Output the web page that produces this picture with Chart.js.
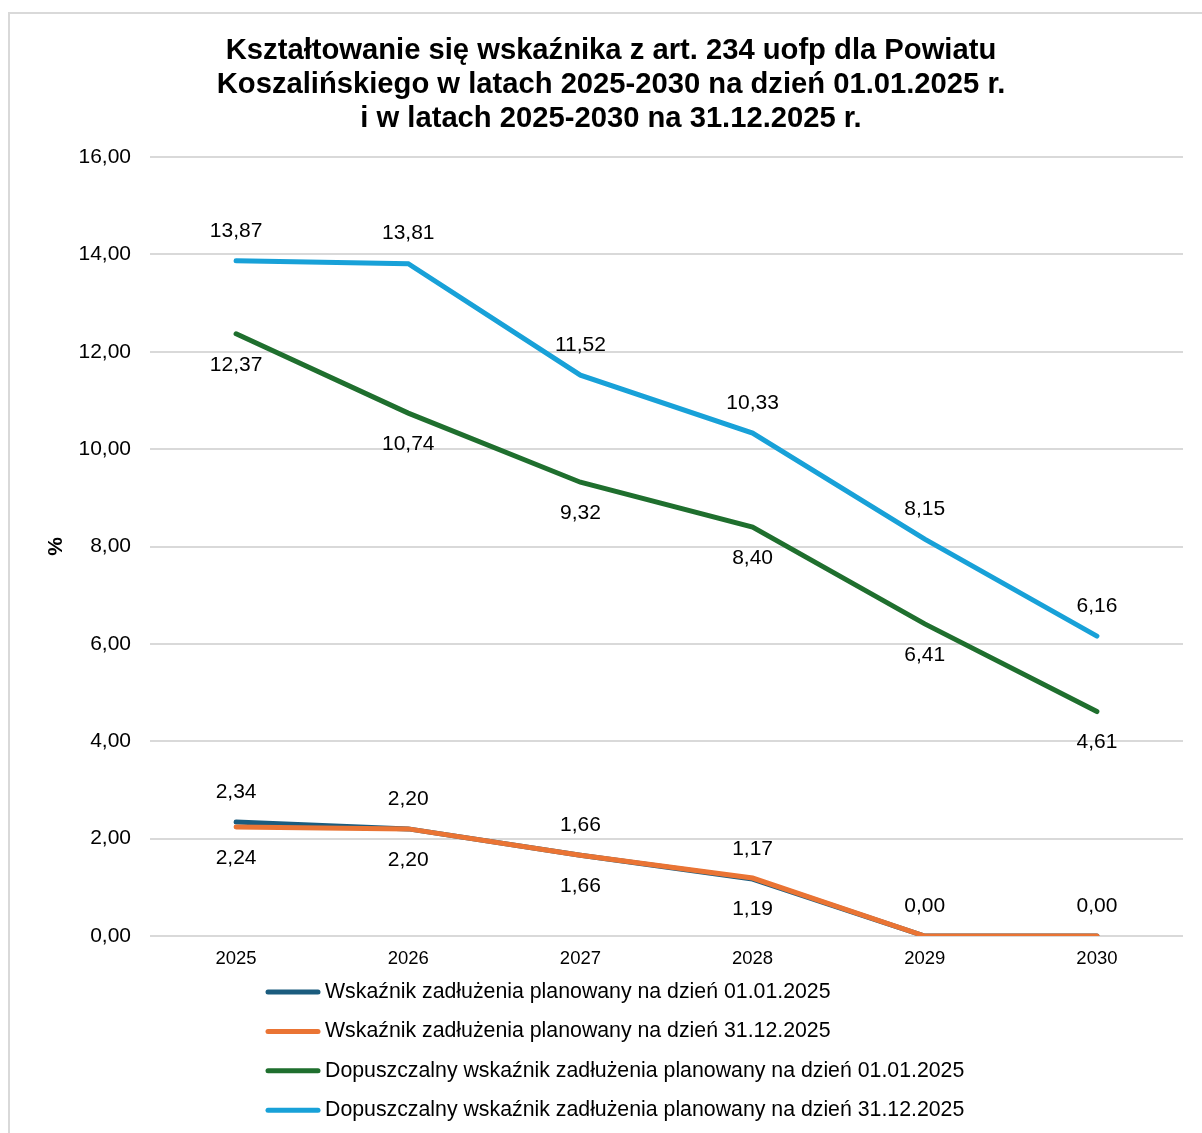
<!DOCTYPE html>
<html lang="pl">
<head>
<meta charset="utf-8">
<script src="https://cdn.jsdelivr.net/npm/chart.js@4.4.1/dist/chart.umd.min.js"></script>
<style>
  html, body { margin: 0; padding: 0; background: #ffffff; }
  #wrap { position: relative; width: 1202px; height: 1133px; overflow: hidden; }
  #frame { position: absolute; left: 8px; top: 12px; width: 1400px; height: 1400px;
           border-left: 2px solid #d9d9d9; border-top: 2px solid #d9d9d9; box-sizing: border-box; }
  canvas { position: absolute; left: 0; top: 0; }
</style>
</head>
<body>
<div id="wrap">
  <div id="frame"></div>
  <canvas id="c" width="1202" height="1133"></canvas>
</div>
<script>
const titleLines = [
  'Kształtowanie się wskaźnika z art. 234 uofp dla Powiatu',
  'Koszalińskiego w latach 2025-2030 na dzień 01.01.2025 r.',
  'i w latach 2025-2030 na 31.12.2025 r.'
];
const years = ['2025', '2026', '2027', '2028', '2029', '2030'];
const yTicks = [0, 2, 4, 6, 8, 10, 12, 14, 16];
const seriesNames = [
  'Wskaźnik zadłużenia planowany na dzień 01.01.2025',
  'Wskaźnik zadłużenia planowany na dzień 31.12.2025',
  'Dopuszczalny wskaźnik zadłużenia planowany na dzień 01.01.2025',
  'Dopuszczalny wskaźnik zadłużenia planowany na dzień 31.12.2025'
];
const debt0101 = [2.34, 2.20, 1.66, 1.17, 0.00, 0.00];
const debt3112 = [2.24, 2.20, 1.66, 1.19, 0.00, 0.00];
const allowed0101 = [12.37, 10.74, 9.32, 8.40, 6.41, 4.61];
const allowed3112 = [13.87, 13.81, 11.52, 10.33, 8.15, 6.16];
const seriesColors = ['#1b5c7e', '#ea7434', '#1f6f2e', '#18a1d8'];
const labelPlacement = ['above', 'below', 'below', 'above'];
const drawOrder = [4, 3, 2, 1];

const FONT = '"Liberation Sans", Arial, sans-serif';
const fmt = v => v.toFixed(2).replace('.', ',');

const dataLabels = {
  id: 'dataLabels',
  afterDatasetsDraw(chart) {
    const ctx = chart.ctx;
    ctx.save();
    ctx.font = '21px ' + FONT;
    ctx.fillStyle = '#000';
    ctx.textAlign = 'center';
    ctx.textBaseline = 'middle';
    chart.data.datasets.forEach((ds, i) => {
      const meta = chart.getDatasetMeta(i);
      meta.data.forEach((pt, j) => {
        const v = ds.data[j];
        const y = labelPlacement[i] === 'above' ? pt.y - 30 : pt.y + 31;
        if (y > chart.chartArea.bottom) return;
        ctx.fillText(fmt(v), pt.x, y);
      });
    });
    ctx.restore();
  }
};

const bottomLegend = {
  id: 'bottomLegend',
  afterDraw(chart) {
    const ctx = chart.ctx;
    ctx.save();
    ctx.font = '21.3px ' + FONT;
    ctx.textBaseline = 'middle';
    ctx.textAlign = 'left';
    const x0 = chart.chartArea.left + 115;
    const top = chart.chartArea.bottom + 56;
    chart.data.datasets.forEach((ds, i) => {
      const y = top + i * 39.4;
      ctx.strokeStyle = ds.borderColor;
      ctx.lineWidth = 5;
      ctx.lineCap = 'round';
      ctx.beginPath();
      ctx.moveTo(x0 + 3, y);
      ctx.lineTo(x0 + 53, y);
      ctx.stroke();
      ctx.fillStyle = '#000';
      ctx.fillText(ds.label, x0 + 60, y);
    });
    ctx.restore();
  }
};

const seriesData = [debt0101, debt3112, allowed0101, allowed3112];

new Chart(document.getElementById('c'), {
  type: 'line',
  data: {
    labels: years,
    datasets: seriesData.map((d, i) => ({
      label: seriesNames[i],
      data: d,
      borderColor: seriesColors[i],
      backgroundColor: seriesColors[i],
      borderWidth: 5,
      borderCapStyle: 'round',
      borderJoinStyle: 'miter',
      pointRadius: 0,
      pointHoverRadius: 0,
      tension: 0,
      fill: false,
      order: drawOrder[i]
    }))
  },
  options: {
    responsive: false,
    animation: false,
    events: [],
    layout: { padding: { left: 39, right: 19, top: 0, bottom: 157 } },
    plugins: {
      legend: { display: false },
      tooltip: { enabled: false },
      title: {
        display: true,
        text: titleLines,
        color: '#000',
        font: { family: FONT, size: 29.2, weight: 'bold', lineHeight: '34px' },
        padding: { top: 34, bottom: 21 }
      }
    },
    scales: {
      x: {
        offset: true,
        grid: { display: false, drawTicks: false, offset: true },
        border: { display: false },
        ticks: { color: '#000', font: { family: FONT, size: 18.5 }, padding: 12, maxRotation: 0 },
        afterFit(scale) { scale.height = 40; }
      },
      y: {
        min: 0,
        max: 16,
        afterBuildTicks(scale) { scale.ticks = yTicks.map(v => ({ value: v })); },
        grid: { color: '#d9d9d9', lineWidth: 2, drawTicks: false },
        border: { display: false },
        ticks: { color: '#000', font: { family: FONT, size: 21 }, padding: 19,
                 callback: v => fmt(v) },
        title: { display: true, text: '%', color: '#000',
                 font: { family: FONT, size: 21, weight: 'bold' }, padding: { top: 5 } },
        afterFit(scale) { scale.width = 111; }
      }
    }
  },
  plugins: [dataLabels, bottomLegend]
});
</script>
</body>
</html>
